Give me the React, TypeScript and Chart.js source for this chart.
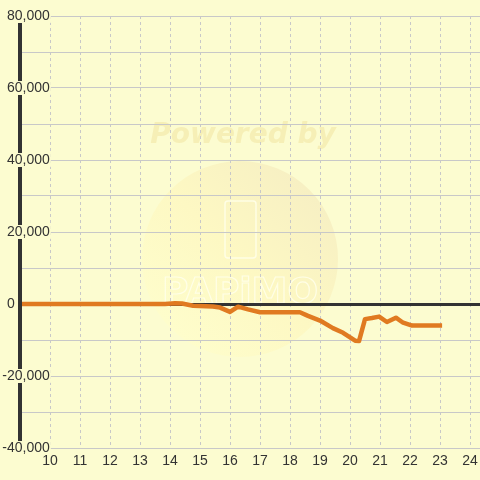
import React, { useEffect, useRef } from "react";
import { Chart, registerables } from "chart.js";

Chart.register(...registerables);

// ---- data ----
const xValues = [9, 13.83, 14.17, 14.4, 14.77, 15.43, 15.67, 16.0, 16.27, 16.6, 17.0, 18.33, 18.6, 19.0, 19.43, 19.77, 20.17, 20.3, 20.5, 20.73, 20.97, 21.23, 21.53, 21.77, 22.07, 23.07];
const yValues = [0, 0, 200, 150, -470, -700, -1000, -2200, -750, -1500, -2300, -2300, -3300, -4600, -6700, -8000, -10200, -10300, -4200, -3900, -3500, -5000, -3800, -5200, -6000, -6000];
const xTickValues = [10, 11, 12, 13, 14, 15, 16, 17, 18, 19, 20, 21, 22, 23, 24];
const yLabelValues = [80000, 60000, 40000, 20000, 0, -20000, -40000];

const X_MIN = 9;
const X_MAX = 24.333;
const Y_MIN = -40000;
const Y_MAX = 80000;

const BG = "#fcfcd0";
const TEXT = "#333333";
const GRID = "#c8c8c8";
const LINE = "#e07a21";
const FONT = "'Liberation Sans', Arial, sans-serif";

const bgPlugin = {
  id: "bgWatermark",
  beforeDraw(chart: any) {
    const { ctx, width, height } = chart;
    ctx.save();
    ctx.fillStyle = BG;
    ctx.fillRect(0, 0, width, height);
    // watermark
    const cx = 240, cy = 259, r = 98;
    const g = ctx.createLinearGradient(cx - r * 0.7, cy + r * 0.7, cx + r * 0.7, cy - r * 0.7);
    g.addColorStop(0, "#fefdcb");
    g.addColorStop(0.5, "#fdf8c3");
    g.addColorStop(1, "#f7f0c3");
    ctx.fillStyle = g;
    ctx.beginPath();
    ctx.arc(cx, cy, r, 0, Math.PI * 2);
    ctx.fill();
    ctx.strokeStyle = "rgba(255,255,235,0.85)";
    ctx.lineWidth = 1.5;
    ctx.beginPath();
    ctx.roundRect(225, 201, 31, 57, 3);
    ctx.stroke();
    ctx.font = "bold 36px 'DejaVu Sans'";
    ctx.textAlign = "center";
    ctx.textBaseline = "alphabetic";
    ctx.lineWidth = 1.2;
    ctx.strokeText("PAPiMO", 240, 303);
    ctx.font = "bold italic 28px 'DejaVu Sans'";
    ctx.fillStyle = "#f6efb6";
    ctx.fillText("Powered by", 243, 143);
    ctx.restore();
  },
};

const yLabelPlugin = {
  id: "yLabels",
  afterDraw(chart: any) {
    const { ctx } = chart;
    const y = chart.scales.y;
    ctx.save();
    ctx.font = `14px ${FONT}`;
    ctx.textBaseline = "middle";
    ctx.textAlign = "left";
    const minusW = ctx.measureText("-").width;
    for (const v of yLabelValues) {
      const py = y.getPixelForValue(v);
      const text = v.toLocaleString("en-US");
      const left = 7 - (v < 0 ? minusW : 0);
      const w = ctx.measureText(text).width;
      ctx.fillStyle = BG;
      ctx.fillRect(left - 1, py - 7, w + 2, 14);
      ctx.fillStyle = TEXT;
      ctx.fillText(text, left, py);
    }
    ctx.restore();
  },
};

export default function App() {
  const ref = useRef<HTMLCanvasElement | null>(null);
  useEffect(() => {
    if (!ref.current) return;
    const chart = new Chart(ref.current, {
      type: "line",
      data: {
        datasets: [
          {
            data: xValues.map((x, i) => ({ x, y: yValues[i] })),
            borderColor: LINE,
            borderWidth: 4.5,
            pointRadius: 0,
            tension: 0,
            borderJoinStyle: "round",
            fill: false,
          },
        ],
      },
      options: {
        animation: false,
        responsive: false,
        events: [],
        layout: { padding: { top: 16, left: 0, right: 0, bottom: 0 } },
        plugins: { legend: { display: false }, tooltip: { enabled: false } },
        scales: {
          x: {
            type: "linear",
            min: X_MIN,
            max: X_MAX,
            afterBuildTicks: (s: any) => {
              s.ticks = xTickValues.map((v) => ({ value: v }));
            },
            afterFit: (s: any) => {
              s.height = 32;
              s.paddingLeft = 0;
              s.paddingRight = 0;
            },
            ticks: {
              color: TEXT,
              font: { size: 14, family: FONT },
              padding: 5,
              maxRotation: 0,
              autoSkip: false,
            },
            grid: { color: GRID, lineWidth: 1, drawTicks: false },
            border: { display: false, dash: [3, 3] },
          },
          y: {
            type: "linear",
            min: Y_MIN,
            max: Y_MAX,
            afterFit: (s: any) => {
              s.width = 20;
              s.paddingTop = 0;
              s.paddingBottom = 0;
            },
            ticks: { display: false, stepSize: 10000 },
            grid: {
              drawTicks: false,
              color: (c: any) => (c.tick && c.tick.value === 0 ? TEXT : GRID),
              lineWidth: (c: any) => (c.tick && c.tick.value === 0 ? 3 : 1),
            },
            border: { display: true, color: TEXT, width: 4, z: 1 },
          },
        },
      },
      plugins: [bgPlugin, yLabelPlugin],
    });
    return () => chart.destroy();
  }, []);
  return (
    <div style={{ position: "absolute", left: 0, top: 0, width: 480, height: 480 }}>
      <canvas ref={ref} width={480} height={480} />
    </div>
  );
}
